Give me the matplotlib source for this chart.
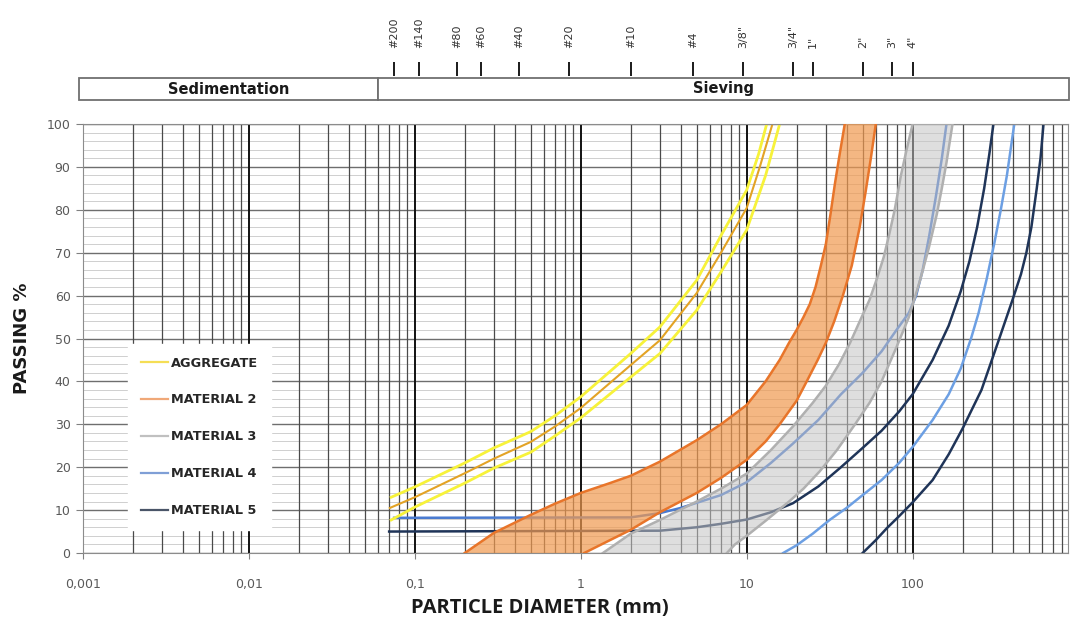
import matplotlib
matplotlib.use("Agg")
import matplotlib.pyplot as plt
from matplotlib.lines import Line2D
from matplotlib.patches import Rectangle
from matplotlib.ticker import FixedLocator, FixedFormatter, NullLocator
import numpy as np

plt.rcParams['font.family'] = ['DejaVu Sans']

# ---- data (diameter in mm, passing in %) ----
agg_mid_x = [0.0707, 0.1, 0.2, 0.3, 0.5, 0.7, 1, 2, 3, 5, 7, 10, 12, 14.3]
agg_mid_y = [10.5, 13, 18.6, 22, 25.9, 29.5, 33.8, 43.8, 49.6, 60.6, 70, 80.4, 90, 100]
agg_up_x = [0.072, 0.1, 0.2, 0.3, 0.5, 0.7, 1, 2, 3, 5, 7, 10, 11.8, 13.2]
agg_up_y = [13, 15.4, 21, 24.5, 28.3, 32, 36.4, 46.5, 52.7, 63.6, 74, 84.6, 93, 100]
agg_lo_x = [0.072, 0.1, 0.2, 0.3, 0.5, 0.7, 1, 2, 3, 5, 7, 10, 13, 15.8]
agg_lo_y = [7.7, 10.7, 16.3, 19.8, 23.5, 27.3, 31.5, 41, 46.5, 56.6, 65.5, 75.3, 88, 100]

m2_up_x = [0.2, 0.3, 0.5, 0.7, 1, 1.5, 2, 3, 5, 7, 10, 13, 15.8, 18, 20, 22, 24, 26, 28, 30, 32, 34, 36, 39]
m2_up_y = [0, 4.7, 8.9, 11.5, 14, 16.3, 18, 21.3, 26.3, 30, 34.5, 40, 45, 49, 52, 55, 58, 62, 67, 72, 79, 86, 92, 100]
m2_lo_x = [1.05, 1.5, 2, 3, 5, 7, 10, 13, 15.8, 20, 23, 26.8, 30, 33.7, 38, 43, 48, 52, 56, 60]
m2_lo_y = [0, 3, 5.4, 9.5, 14, 17.5, 21.7, 26, 30, 35.5, 40, 45, 49, 54, 60, 67, 76, 84, 92, 100]

m3_up_x = [1.36, 2, 3, 5, 7, 10, 14, 19, 25, 30, 36, 42, 48, 55, 61, 67, 72, 78, 85, 92, 100]
m3_up_y = [0, 4.5, 7.7, 12, 15, 18.5, 24, 29.5, 35, 39, 44, 49, 54, 59, 64, 69, 74, 80, 88, 94, 100]
m3_lo_x = [7.6, 8.5, 10, 13, 18, 22, 27.5, 35, 45, 55, 65, 80, 95, 111, 125, 140, 150, 160, 174]
m3_lo_y = [0, 2, 4, 7.5, 12, 15, 19, 24, 30, 35, 40, 48, 55, 63.6, 71, 79, 85, 91, 100]

m4_up_x = [0.075, 2, 3, 4, 5, 7, 10, 14, 19, 27, 37, 50, 65, 80, 95, 105, 115, 126, 138, 150, 160]
m4_up_y = [8.2, 8.3, 9.3, 10.5, 11.7, 13.5, 16.5, 21, 25.5, 31, 37, 42, 47, 52, 56, 60, 66, 74, 83, 92, 100]
m4_lo_x = [16.6, 20, 25, 31.6, 40, 50, 65, 83, 100, 132, 165, 195, 225, 250, 280, 310, 340, 370, 410]
m4_lo_y = [0, 1.8, 4.5, 7.7, 10.5, 13.5, 17, 21, 24.7, 31, 37, 43, 50, 56, 64, 72, 80, 88, 100]

m5_up_x = [0.07, 3, 5, 7, 10, 14, 19, 27, 37, 50, 65, 83, 100, 132, 165, 195, 220, 245, 270, 290, 307]
m5_up_y = [5, 5.2, 6, 6.8, 7.8, 9.5, 11.6, 15.5, 20, 24.5, 28.5, 33, 37, 45, 53, 61, 68, 76, 85, 93, 100]
m5_lo_x = [50, 60, 70, 83, 100, 132, 165, 200, 260, 333, 400, 450, 485, 520, 560, 590, 615]
m5_lo_y = [0, 3, 5.8, 8.6, 11.8, 17, 23, 29, 38, 50, 59, 65, 70, 76, 85, 92, 100]

legend_labels = ['AGGREGATE', 'MATERIAL 2', 'MATERIAL 3', 'MATERIAL 4', 'MATERIAL 5']
x_ticks = [0.001, 0.01, 0.1, 1, 10, 100]
x_tick_labels = ['0,001', '0,01', '0,1', '1', '10', '100']
y_ticks = list(range(0, 101, 10))

sieve_mm = [0.075, 0.106, 0.18, 0.25, 0.425, 0.85, 2.0, 4.75, 9.5, 19, 25, 50, 75, 100]
sieve_lbl = ['#200', '#140', '#80', '#60', '#40', '#20', '#10', '#4',
             '3/8"', '3/4"', '1"', '2"', '3"', '4"']
split_mm = 0.06
xmin, xmax = 0.001, 864

# ---- figure ----
fig = plt.figure(figsize=(10.7, 6.23), dpi=100)
ax = fig.add_axes([83 / 1070, 70 / 623, 985 / 1070, 429 / 623])
ax.set_xscale('log')
ax.set_xlim(xmin, xmax)
ax.set_ylim(0, 100)

ax.xaxis.set_major_locator(FixedLocator(x_ticks))
ax.xaxis.set_major_formatter(FixedFormatter(x_tick_labels))
ax.xaxis.set_minor_locator(NullLocator())
ax.yaxis.set_major_locator(FixedLocator(y_ticks))
ax.yaxis.set_minor_locator(NullLocator())
ax.tick_params(axis='x', length=4, pad=14, labelsize=9, labelcolor='#595959', color='#808080')
ax.tick_params(axis='y', length=5, pad=4, labelsize=9, labelcolor='#595959', color='#808080')
for s in ax.spines.values():
    s.set_color('#8c8c8c')

# grid drawn by hand so the vertical lines stay on top of the horizontal ones
decades = [10.0 ** e for e in range(-3, 3)]
minors = [k * d for d in decades + [1000.0] for k in range(2, 10) if k * d < xmax]
ax.hlines(np.arange(0, 101, 2), xmin, xmax, color='#cfcfcf', lw=0.7, zorder=0.1)
ax.hlines(y_ticks, xmin, xmax, color='#6e6e6e', lw=1.0, zorder=0.2)
ax.vlines(minors, 0, 100, color='#4a4a4a', lw=0.9, zorder=0.3)
ax.vlines(decades, 0, 100, color='#111111', lw=1.4, zorder=0.4)

# material 4 / 5 (plain envelopes)
ax.plot(m5_up_x, m5_up_y, color='#1f3458', lw=1.8, zorder=2)
ax.plot(m5_lo_x, m5_lo_y, color='#1f3458', lw=1.8, zorder=2)
ax.plot(m4_up_x, m4_up_y, color='#4a7bd0', lw=1.8, zorder=2)
ax.plot(m4_lo_x, m4_lo_y, color='#6c9fe3', lw=1.8, zorder=2)

# aggregate
ax.plot(agg_up_x, agg_up_y, color='#f7f23a', lw=2.0, zorder=2)
ax.plot(agg_lo_x, agg_lo_y, color='#f7f23a', lw=2.0, zorder=2)
ax.plot(agg_mid_x, agg_mid_y, color='#e3a325', lw=1.5, zorder=2)

# material 2 band
ax.fill(m2_up_x + m2_lo_x[::-1], m2_up_y + m2_lo_y[::-1], color='#f0994f', alpha=0.7, lw=0, zorder=3)
ax.plot(m2_up_x, m2_up_y, color='#e8752a', lw=1.8, zorder=4)
ax.plot(m2_lo_x, m2_lo_y, color='#e8752a', lw=1.8, zorder=4)

# material 3 band
ax.fill(m3_up_x + m3_lo_x[::-1], m3_up_y + m3_lo_y[::-1], color='#c4c4c4', alpha=0.55, lw=0, zorder=3)
ax.plot(m3_up_x, m3_up_y, color='#b0b0b0', lw=1.8, zorder=4)
ax.plot(m3_lo_x, m3_lo_y, color='#b0b0b0', lw=1.8, zorder=4)

# legend
handles = [Line2D([], [], color=c, lw=1.6) for c in
           ['#f5de55', '#f0a878', '#c0c0c0', '#7f9fd6', '#4a5568']]
leg = ax.legend(handles, legend_labels, loc='lower left', bbox_to_anchor=(0.0457, 0.0536),
                borderaxespad=0, frameon=True, fancybox=False, edgecolor='white', framealpha=1,
                handlelength=2.1, handletextpad=0.2, labelspacing=1.85, borderpad=1.0,
                prop={'size': 9.3, 'weight': 'bold'})
leg.set_zorder(6)
for t in leg.get_texts():
    t.set_color('#262626')

# axis titles
fig.text(22 / 1070, 1 - 338 / 623, 'PASSING %', rotation=90, ha='center', va='center',
         fontsize=13, fontweight='bold', color='#1a1a1a')
fig.text(540 / 1070, 1 - 608 / 623, 'PARTICLE DIAMETER (mm)', ha='center', va='center',
         fontsize=14.5, fontweight='bold', color='#1a1a1a', family=['Open Sans', 'DejaVu Sans'])

# ---- top strip: sieve sizes and method boxes (y in pixels from top) ----
top = fig.add_axes([83 / 1070, 523 / 623, 985 / 1070, 100 / 623])
top.set_xscale('log')
top.set_xlim(xmin, xmax)
top.set_ylim(100, 0)
top.axis('off')
box_l = 0.00095
top.add_patch(Rectangle((box_l, 78), split_mm - box_l, 22, facecolor='white',
                        edgecolor='#707070', lw=1.3, clip_on=False))
top.add_patch(Rectangle((split_mm, 78), xmax * 1.02 - split_mm, 22, facecolor='white',
                        edgecolor='#707070', lw=1.3, clip_on=False))
top.text(np.sqrt(box_l * split_mm), 89, 'Sedimentation', ha='center', va='center',
         fontsize=10.5, fontweight='bold', color='#1a1a1a')
top.text(np.sqrt(split_mm * xmax), 89, 'Sieving', ha='center', va='center',
         fontsize=10.5, fontweight='bold', color='#1a1a1a')
top.vlines(sieve_mm, 62, 76, color='#1a1a1a', lw=1.4)
for mm, lbl in zip(sieve_mm, sieve_lbl):
    top.text(mm, 48, lbl, rotation=90, ha='center', va='bottom', fontsize=8, color='#333333')

fig.savefig('out.png', dpi=100)
